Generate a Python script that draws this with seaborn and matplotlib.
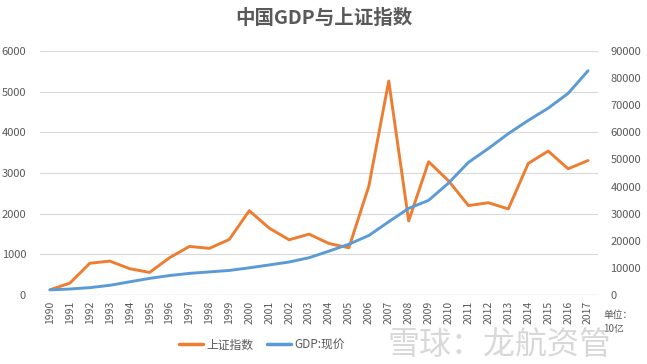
import matplotlib
matplotlib.use("Agg")
import matplotlib.pyplot as plt
import seaborn as sns
import numpy as np
import pandas as pd

years = list(range(1990, 2018))
sse_index = [128, 293, 780, 834, 647, 555, 917, 1194, 1147, 1367, 2073, 1646,
             1357, 1497, 1266, 1161, 2675, 5262, 1821, 3277, 2808, 2199, 2269,
             2116, 3235, 3539, 3104, 3307]
gdp = [1887, 2201, 2719, 3567, 4864, 6134, 7181, 7972, 8520, 9056, 10028, 11086,
       12172, 13742, 16184, 18732, 21944, 27023, 31952, 34908, 41303, 48930,
       54037, 59524, 64397, 68905, 74359, 82712]
series_names = ["上证指数", "GDP:现价"]
title = "中国GDP与上证指数"
unit_note = "单位：\n10亿"
watermark = "雪球：龙航资管"

sns.set_theme(style="white")
plt.rcParams['font.family'] = ['Noto Sans CJK SC', 'DejaVu Sans']

c_orange = "#ED7D31"
c_blue = "#5B9BD5"
txt = "#595959"

df = pd.DataFrame({"idx": np.arange(len(years)), "year": years,
                   "sse": sse_index, "gdp": gdp})

fig = plt.figure(figsize=(6.47, 3.64), dpi=100)
ax = fig.add_axes([40/647, 1-295/364, (598-40)/647, (295-51)/364])
ax2 = ax.twinx()

sns.lineplot(data=df, x="idx", y="sse", ax=ax, color=c_orange, linewidth=2.1,
             label=series_names[0], legend=False)
sns.lineplot(data=df, x="idx", y="gdp", ax=ax2, color=c_blue, linewidth=2.1,
             label=series_names[1], legend=False)

ax.set_xlim(-0.5, len(years) - 0.5)
ax.set_ylim(0, 6000)
ax2.set_ylim(0, 90000)
ax.set_yticks(np.arange(0, 6001, 1000))
ax2.set_yticks(np.arange(0, 90001, 10000))
ax.set_xticks(np.arange(len(years)))
ax.set_xticklabels([str(y) for y in years], rotation=90, fontsize=7.5, color=txt)
ax.tick_params(axis='x', length=0, pad=4)
ax.tick_params(axis='y', labelsize=8, colors=txt, length=0, pad=10)
ax2.tick_params(axis='y', labelsize=8, colors=txt, length=0, pad=9)
ax.set_xlabel("")
ax.set_ylabel("")
ax2.set_ylabel("")

ax.grid(axis='y', color="#D9D9D9", linewidth=0.8)
ax.set_axisbelow(True)
for a in (ax, ax2):
    for s in ["top", "right", "left", "bottom"]:
        a.spines[s].set_visible(False)
ax.axhline(0, color="#D9D9D9", linewidth=0.9, zorder=1)
ax.set_xticks(np.arange(len(years) + 1) - 0.5, minor=True)
ax.tick_params(axis='x', which='minor', length=4, color="#D9D9D9", width=0.8)

fig.suptitle(title, x=0.5, y=0.975, fontsize=14, fontweight='bold', color=txt)

h1, = ax.plot([], [], color=c_orange, linewidth=2.5, label=series_names[0])
h2, = ax.plot([], [], color=c_blue, linewidth=2.5, label=series_names[1])
fig.legend(handles=[h1, h2], loc='center', bbox_to_anchor=(262/647, 1-345/364),
           ncol=2, frameon=False, fontsize=8.5, labelcolor=txt,
           handlelength=2.0, columnspacing=1.2, handletextpad=0.3)

fig.text(603/647, 1-322/364, unit_note, fontsize=7, color=txt, ha='left',
         va='center', linespacing=1.4)
fig.text(500/647, 1-345/364, watermark, fontsize=23, color="#BFBFBF", alpha=0.6,
         ha='center', va='center')

fig.savefig("out.png", dpi=100)
